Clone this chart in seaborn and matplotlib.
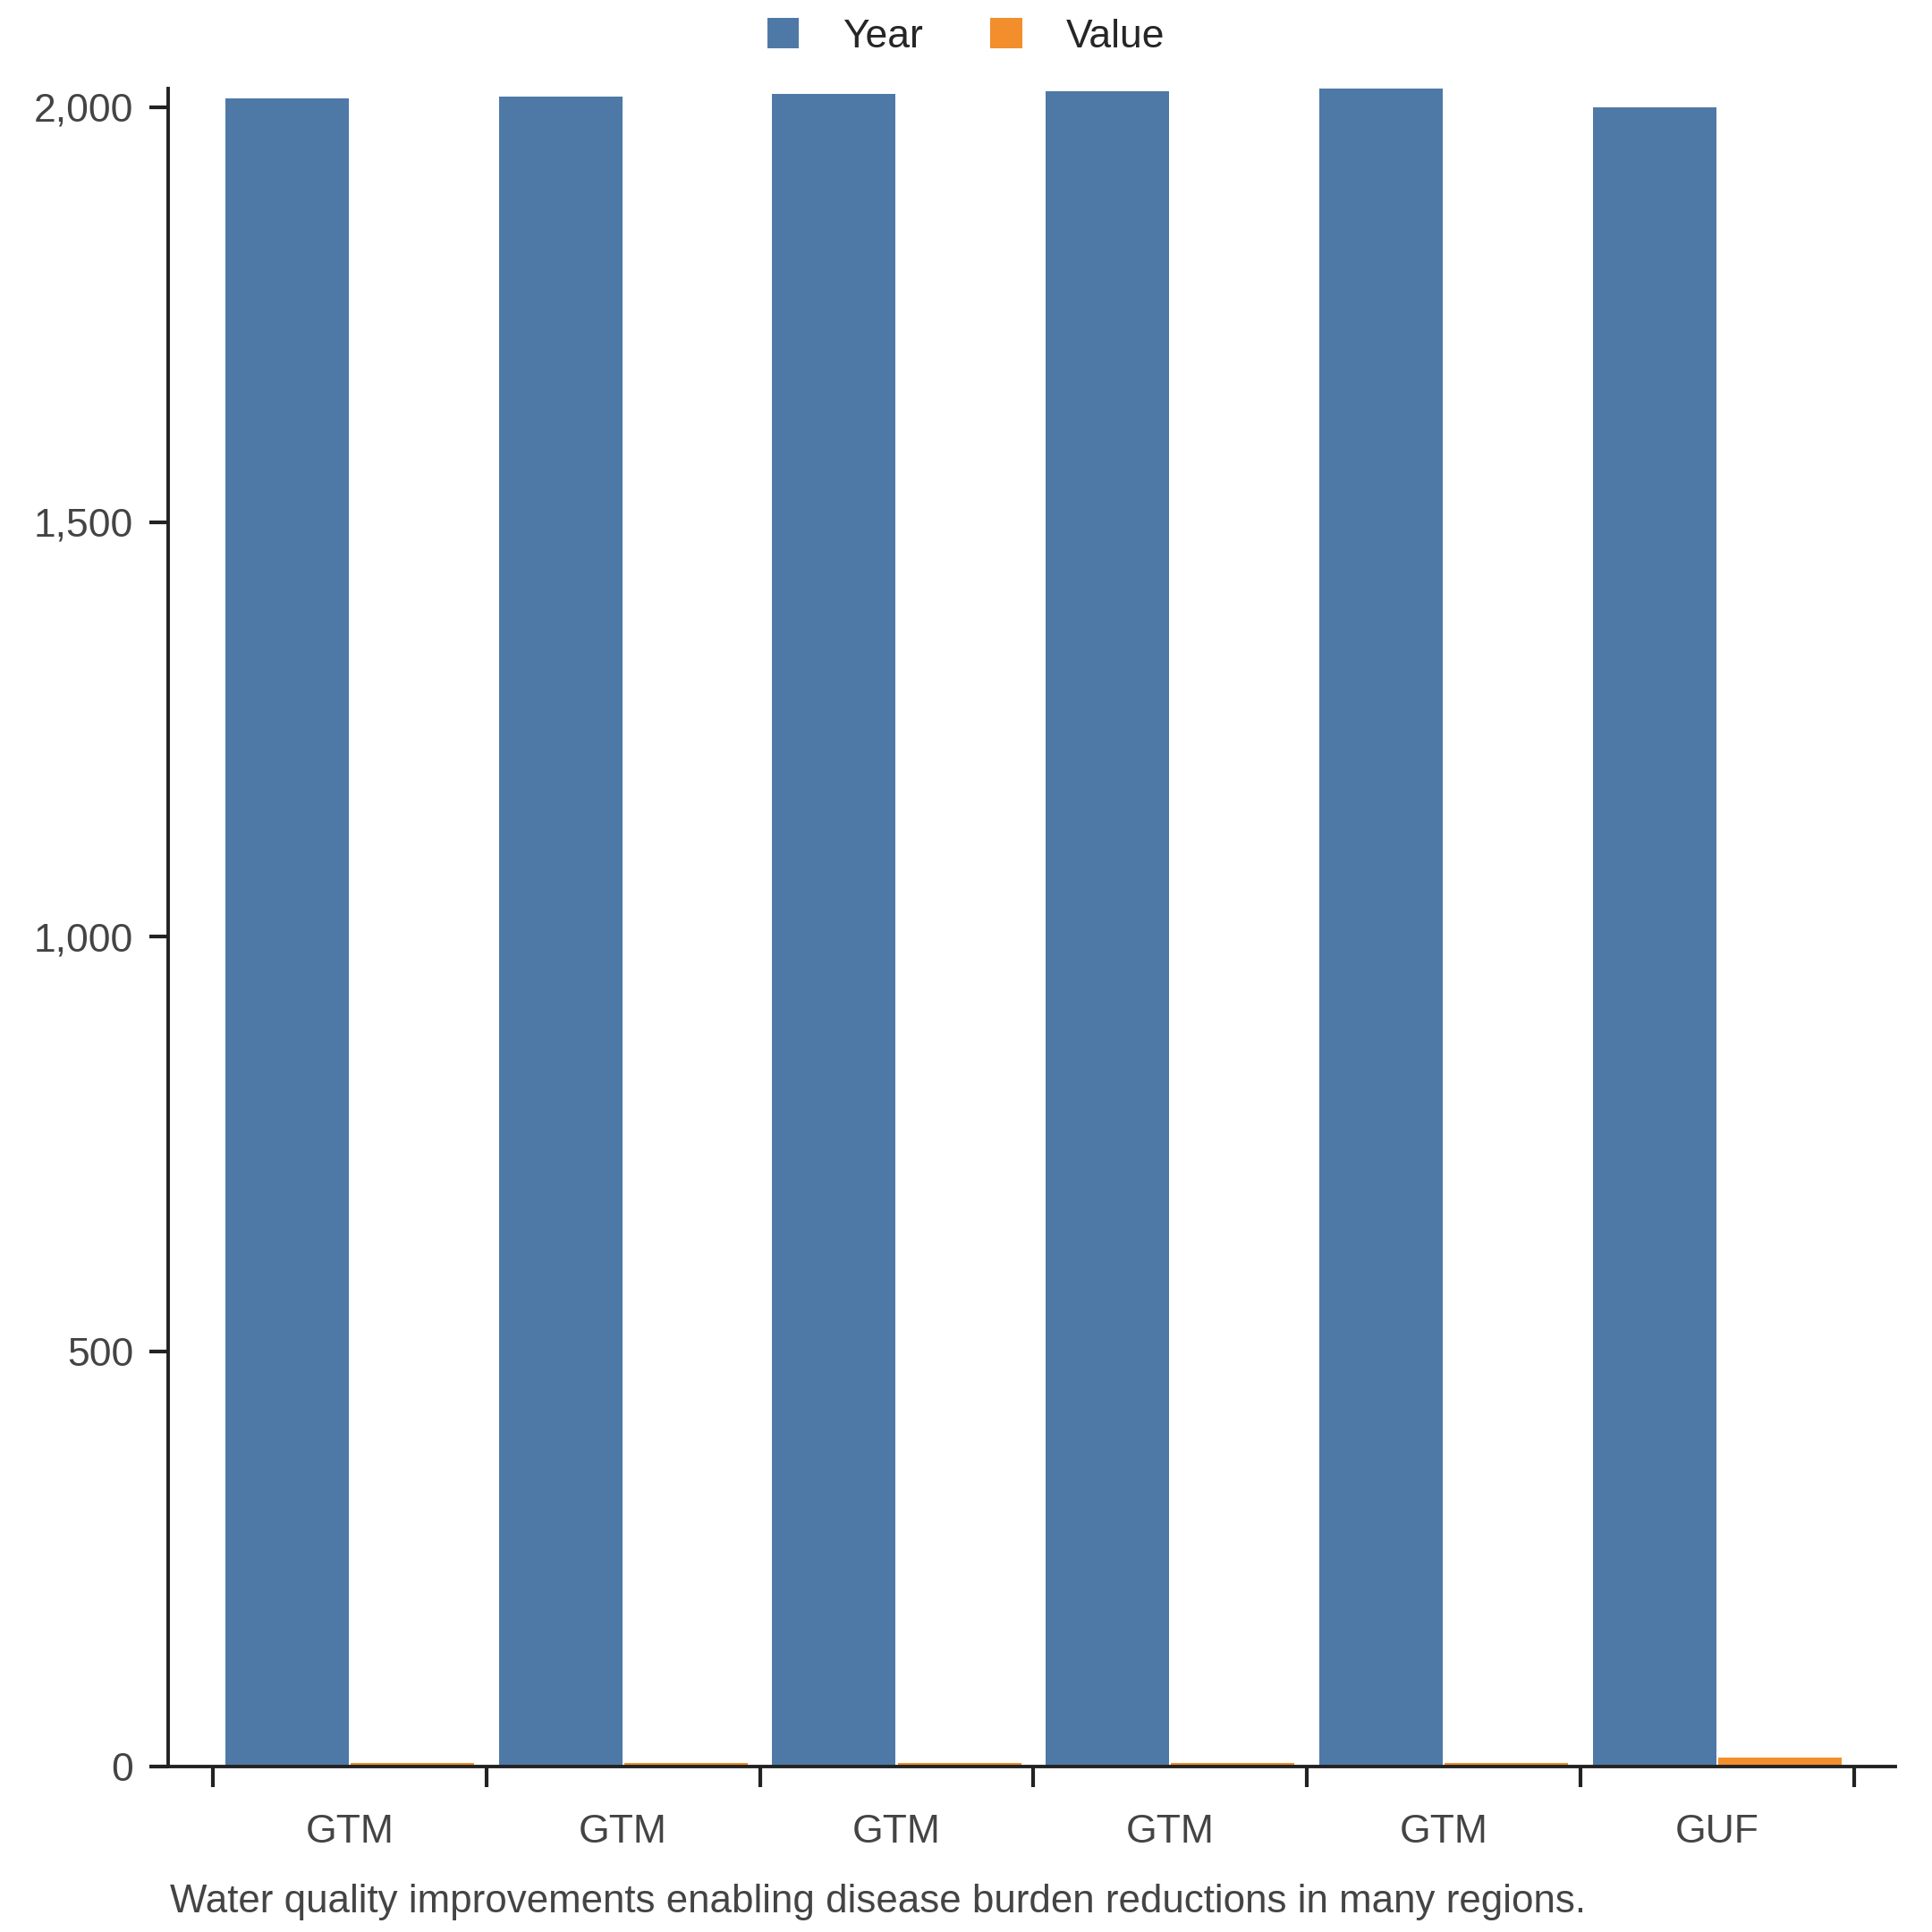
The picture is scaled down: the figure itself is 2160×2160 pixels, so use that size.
import pandas as pd
import numpy as np
import seaborn as sns
import matplotlib.pyplot as plt
from matplotlib.ticker import FuncFormatter, FixedLocator
from matplotlib.patches import Patch

# data
countries = ["GTM", "GTM", "GTM", "GTM", "GTM", "GUF"]
years = [2010, 2013, 2016, 2019, 2022, 2000]
values = [4, 4, 4, 4, 4, 10.5]
series = ["Year", "Value"]
colors = ["#4e79a7", "#f28e2b"]
caption = "Water quality improvements enabling disease burden reductions in many regions."

rows = []
for i, c in enumerate(countries):
    rows.append({"row": i, "country": c, "series": "Year", "amount": years[i]})
    rows.append({"row": i, "country": c, "series": "Value", "amount": values[i]})
df = pd.DataFrame(rows)

sns.set_theme(style="ticks")
plt.rcParams["font.family"] = ["Liberation Sans", "DejaVu Sans"]

fig = plt.figure(figsize=(10.8, 10.8), dpi=200)
ax = fig.add_axes([0.087, 0.0856, 0.894, 0.8684])

sns.barplot(data=df, x="row", y="amount", hue="series", hue_order=series,
            palette=colors, width=0.916, gap=0.015, saturation=1,
            linewidth=0, legend=False, ax=ax)

n = len(countries)
ax.set_xlim(-0.663, n - 0.35)
ax.set_ylim(0, max(years))
ax.set_xlabel("")
ax.set_ylabel("")

# labels at centres, tick marks at group boundaries
ax.xaxis.set_major_locator(FixedLocator(np.arange(n)))
ax.set_xticklabels(countries)
ax.xaxis.set_minor_locator(FixedLocator(np.arange(n + 1) - 0.5))
ax.tick_params(axis="x", which="major", length=0, pad=19, labelsize=16, labelcolor="#444444")
ax.tick_params(axis="x", which="minor", length=8.3, width=1.5, color="#222222")

ax.set_yticks([0, 500, 1000, 1500, 2000])
ax.yaxis.set_major_formatter(FuncFormatter(lambda v, p: f"{int(v):,}"))
ax.tick_params(axis="y", length=7.5, width=1.5, color="#222222", labelsize=16,
               labelcolor="#444444", pad=6.5)

sns.despine(ax=ax)
for s in ["left", "bottom"]:
    ax.spines[s].set_linewidth(1.4)
    ax.spines[s].set_color("#222222")

handles = [Patch(facecolor=c, edgecolor="none", label=s) for s, c in zip(series, colors)]
fig.legend(handles=handles, loc="upper center", bbox_to_anchor=(0.5, 1.005), ncol=2,
           frameon=False, fontsize=16, handlelength=0.8, handleheight=0.8,
           handletextpad=1.1, columnspacing=1.7, borderaxespad=0.3)

fig.text(0.088, 0.0153, caption, fontsize=15.8, color="#444444", ha="left", va="center")

fig.savefig("out.png", dpi=200)
